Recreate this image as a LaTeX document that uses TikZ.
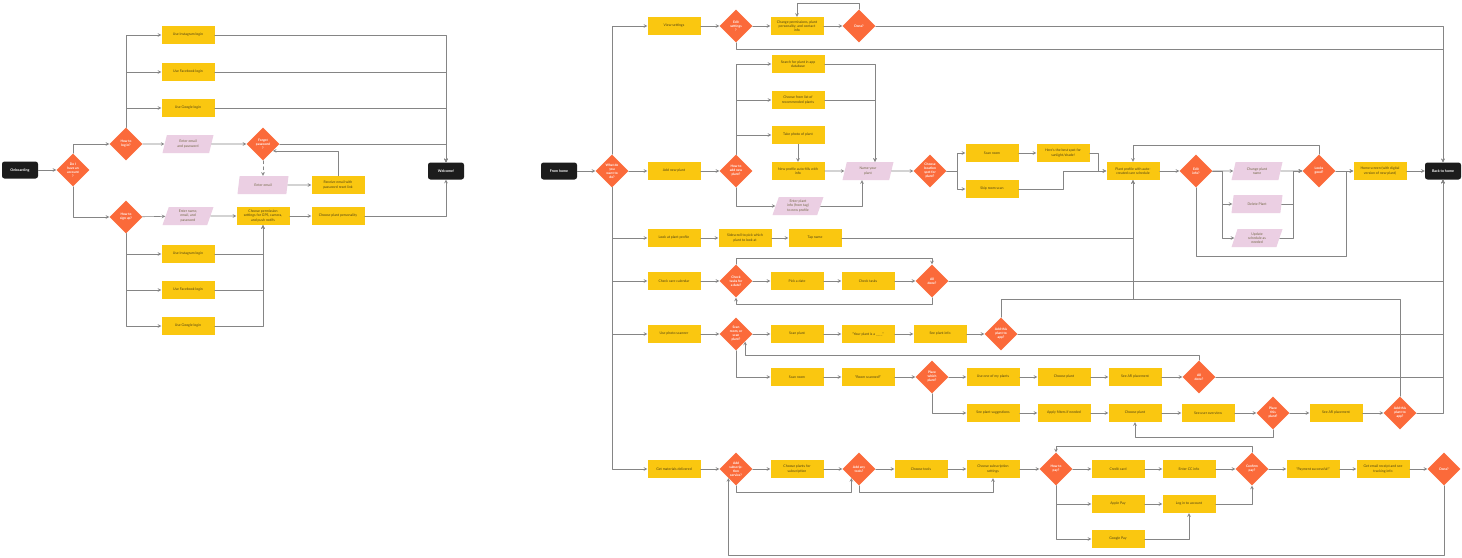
\documentclass[tikz,border=0pt]{standalone}
\usepackage{fontspec}
\setmainfont{Lato}
\usetikzlibrary{shapes.geometric}
\definecolor{yel}{HTML}{FAC710}
\definecolor{org}{HTML}{FB6A3A}
\definecolor{pnk}{HTML}{EBCFE3}
\definecolor{blk}{HTML}{1C1C1C}
\definecolor{lin}{HTML}{858585}
\definecolor{txt}{HTML}{4F4215}
\begin{document}
\begin{tikzpicture}[x=1pt,y=-1pt,>=stealth, line join=round, line cap=round,
	box/.style={rectangle, fill=yel, minimum width=53pt, minimum height=18pt, inner sep=1pt, align=center, text=txt, font=\fontsize{3.5}{4.2}\selectfont},
	dec/.style={diamond, aspect=1, fill=org, minimum size=33pt, inner sep=0pt, align=center, text=white, font=\fontsize{3.3}{4}\selectfont\bfseries},
	inp/.style={trapezium, trapezium left angle=65, trapezium right angle=115, trapezium stretches body, fill=pnk, minimum width=51pt, minimum height=18pt, inner sep=1pt, align=center, text=txt!80, font=\fontsize{3.5}{4.2}\selectfont},
	term/.style={rectangle, rounded corners=2.5pt, fill=blk, minimum width=36pt, minimum height=17pt, text=white, font=\fontsize{3.6}{4.3}\selectfont\bfseries},
	ln/.style={->, color=lin, line width=.6pt}]
	\fill[white] (0,0) rectangle (1462,557);
	\useasboundingbox (0,0) rectangle (1462,557);
	% Onboarding
	\node[term] (onb) at (20,170) {Onboarding};
	\node[dec] (acct) at (73,170) {Do I\\have an\\account\\?};
	\node[dec] (login) at (126,144) {How to\\log in?};
	\node[dec] (signup) at (126,217) {How to\\sign up?};
	\node[box] (ig1) at (188,35) {Use Instagram login};
	\node[box] (fb1) at (188,72) {Use Facebook login};
	\node[box] (gg1) at (188,108) {Use Google login};
	\node[inp] (pw) at (188,144) {Enter email\\and password};
	\node[dec] (forgot) at (263,144) {Forgot\\password\\?};
	\node[inp] (mail) at (263,185) {Enter email};
	\node[box] (reset) at (338,185) {Receive email with\\password reset link};
	\node[term] (welc) at (446,171) {Welcome!};
	\node[inp] (name) at (188,216) {Enter name,\\email, and\\password};
	\node[box] (perm) at (263,216) {Choose permission\\settings for GPS, camera,\\and push notifs};
	\node[box] (pers) at (338,216) {Choose plant personality};
	\node[box] (ig2) at (188,254) {Use Instagram login};
	\node[box] (fb2) at (188,290) {Use Facebook login};
	\node[box] (gg2) at (188,326) {Use Google login};
	\draw[ln] (onb) -- (acct);
	\draw[ln] (acct.north) |- (login);
	\draw[ln] (acct.south) |- (signup);
	\draw[ln] (login.north) |- (ig1);
	\draw[ln] (login.north) |- (fb1);
	\draw[ln] (login.north) |- (gg1);
	\draw[ln] (login) -- (pw);
	\draw[ln] (pw) -- (forgot);
	\draw[ln] (ig1) -| (welc);
	\draw[ln] (fb1) -| (welc);
	\draw[ln] (gg1) -| (welc);
	\draw[ln] (forgot) -| (welc);
	\draw[ln, dashed] (forgot) -- (mail);
	\draw[ln] (mail) -- (reset);
	\draw[ln] (reset.north) |- (forgot.-35);
	\draw[ln] (signup) -- (name);
	\draw[ln] (name) -- (perm);
	\draw[ln] (perm) -- (pers);
	\draw[ln] (pers) -| (welc);
	\draw[ln] (signup.south) |- (ig2);
	\draw[ln] (signup.south) |- (fb2);
	\draw[ln] (signup.south) |- (gg2);
	\draw[ln] (ig2) -| (perm.south);
	\draw[ln] (fb2) -| (perm.south);
	\draw[ln] (gg2) -| (perm.south);
	% From home
	\node[term] (home) at (559,171) {From home};
	\node[dec] (want) at (612,171) {What do\\you\\want to\\do?};
	\node[term] (back) at (1443,171) {Back to home};
	\draw[ln] (home) -- (want);
	% settings
	\node[box] (view) at (674,26) {View settings};
	\node[dec] (edit) at (736,26) {Edit\\settings\\?};
	\node[box] (change) at (797,26) {Change permissions, plant\\personality, and contact\\info};
	\node[dec] (done1) at (859,26) {Done?};
	\draw[ln] (want.north) |- (view);
	\draw[ln] (view) -- (edit);
	\draw[ln] (edit) -- (change);
	\draw[ln] (change) -- (done1);
	\draw[ln] (done1.north) -- ++(0,-6.5) -| (change.north);
	\draw[ln] (done1) -| (back);
	\draw[ln] (edit.south) -- ++(0,6.5) -| (back);
	% new plant
	\node[box] (add) at (674,171) {Add new plant};
	\node[dec] (how) at (736,171) {How to\\add new\\plant?};
	\node[box] (search) at (798,64) {Search for plant in app\\database};
	\node[box] (list) at (798,100) {Choose from list of\\recommended plants};
	\node[box] (photo) at (798,135) {Take photo of plant};
	\node[box] (auto) at (798,171) {New profile auto-fills with\\info};
	\node[inp] (tag) at (798,206) {Enter plant\\info (from tag)\\to new profile};
	\node[inp] (naming) at (868,171) {Name your\\plant};
	\node[dec] (spot) at (930,171) {Choose\\location\\spot for\\plant?};
	\node[box] (scan) at (992,153) {Scan room};
	\node[box] (skip) at (992,189) {Skip room scan};
	\node[box] (best) at (1063,153) {Here's the best spot for\\sunlight/shade!};
	\node[box] (profile) at (1133,171) {Plant profile with auto-\\created care schedule};
	\node[dec] (editinfo) at (1196,171) {Edit\\info?};
	\node[inp] (rename) at (1257,171) {Change plant\\name};
	\node[inp] (del) at (1257,204) {Delete Plant};
	\node[inp] (upd) at (1257,238) {Update\\schedule as\\needed};
	\node[dec] (good) at (1319,171) {Looks\\good?};
	\node[box] (screen) at (1380,171) {Home screen (with digital\\version of new plant)};
	\coordinate (mrg) at (1293,171);
	\coordinate (cj) at (1346,171);
	\draw[ln] (want) -- (add);
	\draw[ln] (add) -- (how);
	\draw[ln] (how.north) |- (search);
	\draw[ln] (how.north) |- (list);
	\draw[ln] (how.north) |- (photo);
	\draw[ln] (how.south) |- (tag);
	\draw[ln] (photo) -- (auto);
	\draw[ln] (auto) -- (naming);
	\draw[ln] (search) -| ([xshift=7pt]naming.north);
	\draw[ln] (list) -| ([xshift=7pt]naming.north);
	\draw[ln] (tag) -| ([xshift=-6pt]naming.south);
	\draw[ln] (naming) -- (spot);
	\draw[ln] (spot.east) -- ++(10.5,0) |- (scan);
	\draw[ln] (spot.east) -- ++(10.5,0) |- (skip);
	\draw[ln] (scan) -- (best);
	\draw[ln] (best.east) -- ++(8.5,0) |- (profile);
	\draw[ln] (skip.east) -- ++(44.5,0) |- (profile);
	\draw[ln] (profile) -- (editinfo);
	\draw[ln] (editinfo) -- (rename);
	\draw[ln] (editinfo.east) -- ++(9.5,0) |- (del);
	\draw[ln] (editinfo.east) -- ++(9.5,0) |- (upd);
	\draw[ln] (rename) -- (good);
	\draw[ln] (del) -| (mrg) -- (good);
	\draw[ln] (upd) -| (mrg) -- (good);
	\draw[ln] (good.north) -- ++(0,-9.5) -| (profile.north);
	\draw[ln] (good) -- (screen);
	\draw[ln] (editinfo.south) -- ++(0,68.5) -| (cj) -- (screen);
	\draw[ln] (screen) -- (back);
	% plant profile
	\node[box] (look) at (674,238) {Look at plant profile};
	\node[box] (side) at (745,238) {Sidescroll to pick which\\plant to look at};
	\node[box] (tap) at (815,238) {Tap name};
	\draw[ln] (want.south) |- (look);
	\draw[ln] (look) -- (side);
	\draw[ln] (side) -- (tap);
	\draw[ln] (tap) -| (profile.south);
	% care calendar
	\node[box] (cal) at (674,281) {Check care calendar};
	\node[dec] (tasks) at (736,281) {Check\\tasks for\\a date?};
	\node[box] (date) at (797,281) {Pick a date};
	\node[box] (check) at (868,281) {Check tasks};
	\node[dec] (alldone) at (932,281) {All\\done?};
	\draw[ln] (want.south) |- (cal);
	\draw[ln] (cal) -- (tasks);
	\draw[ln] (tasks) -- (date);
	\draw[ln] (date) -- (check);
	\draw[ln] (check) -- (alldone);
	\draw[ln] (tasks.north) -- ++(0,-6.5) -| (alldone.north);
	\draw[ln] (alldone.south) -- ++(0,6.5) -| (tasks.south);
	\draw[ln] (alldone) -| (back);
	% photo scanner
	\node[box] (cam) at (674,334) {Use photo scanner};
	\node[dec] (scanq) at (736,334) {Scan\\room, or\\scan\\plant?};
	\node[box] (splant) at (797,334) {Scan plant};
	\node[box] (kind) at (868,334) {``Your plant is a \_\_\_\_''};
	\node[box] (info) at (940,334) {See plant info};
	\node[dec] (keep1) at (1001,334) {Add this\\plant to\\app?};
	\node[box] (sroom) at (797,377) {Scan room};
	\node[box] (scanned) at (868,377) {``Room scanned!''};
	\node[dec] (which) at (932,377) {Place\\which\\plant?};
	\node[box] (mine) at (993,377) {Use one of my plants};
	\node[box] (pick1) at (1064,377) {Choose plant};
	\node[box] (ar1) at (1135,377) {See AR placement};
	\node[dec] (alldone2) at (1199,377) {All\\done?};
	\node[box] (sugg) at (993,413) {See plant suggestions};
	\node[box] (filt) at (1064,413) {Apply filters if needed};
	\node[box] (pick2) at (1135,413) {Choose plant};
	\node[box] (over) at (1208,413) {See user overview};
	\node[dec] (place) at (1273,413) {Place\\this\\plant?};
	\node[box] (ar2) at (1336,413) {See AR placement};
	\node[dec] (keep2) at (1400,413) {Add this\\plant to\\app?};
	\draw[ln] (want.south) |- (cam);
	\draw[ln] (cam) -- (scanq);
	\draw[ln] (scanq) -- (splant);
	\draw[ln] (splant) -- (kind);
	\draw[ln] (kind) -- (info);
	\draw[ln] (info) -- (keep1);
	\draw[ln] (keep1) -| (back);
	\draw[ln] (keep1.north) -- ++(0,-18.5) -| (profile.south);
	\draw[ln] (scanq.south) |- (sroom);
	\draw[ln] (sroom) -- (scanned);
	\draw[ln] (scanned) -- (which);
	\draw[ln] (which) -- (mine);
	\draw[ln] (mine) -- (pick1);
	\draw[ln] (pick1) -- (ar1);
	\draw[ln] (ar1) -- (alldone2);
	\draw[ln] (alldone2) -| (back);
	\draw[ln] (alldone2.north) -- ++(0,-5.5) -| (scanq.-40);
	\draw[ln] (which.south) |- (sugg);
	\draw[ln] (sugg) -- (filt);
	\draw[ln] (filt) -- (pick2);
	\draw[ln] (pick2) -- (over);
	\draw[ln] (over) -- (place);
	\draw[ln] (place) -- (ar2);
	\draw[ln] (ar2) -- (keep2);
	\draw[ln] (place.south) -- ++(0,7.5) -| (pick2.south);
	\draw[ln] (keep2) -| (back);
	\draw[ln] (keep2.north) -- ++(0,-97.5) -| (profile.south);
	% materials
	\node[box] (mat) at (674,469) {Get materials delivered};
	\node[dec] (sub) at (736,469) {Add\\subscrip-\\tion\\service?};
	\node[box] (subplants) at (797,469) {Choose plants for\\subscription};
	\node[dec] (tools) at (859,469) {Add any\\tools?};
	\node[box] (ctools) at (921,469) {Choose tools};
	\node[box] (settings) at (993,469) {Choose subscription\\settings};
	\node[dec] (pay) at (1056,469) {How to\\pay?};
	\node[box] (cc) at (1118,469) {Credit card};
	\node[box] (ccinfo) at (1189,469) {Enter CC info};
	\node[dec] (confirm) at (1252,469) {Confirm\\pay?};
	\node[box] (paid) at (1313,469) {``Payment successful!''};
	\node[box] (receipt) at (1383,469) {Get email receipt and see\\tracking info};
	\node[dec] (done2) at (1444,469) {Done?};
	\node[box] (apple) at (1118,504) {Apple Pay};
	\node[box] (acc) at (1189,504) {Log in to account};
	\node[box] (gpay) at (1118,539) {Google Pay};
	\draw[ln] (want.south) |- (mat);
	\draw[ln] (mat) -- (sub);
	\draw[ln] (sub) -- (subplants);
	\draw[ln] (subplants) -- (tools);
	\draw[ln] (tools) -- (ctools);
	\draw[ln] (ctools) -- (settings);
	\draw[ln] (settings) -- (pay);
	\draw[ln] (pay) -- (cc);
	\draw[ln] (cc) -- (ccinfo);
	\draw[ln] (ccinfo) -- (confirm);
	\draw[ln] (confirm) -- (paid);
	\draw[ln] (paid) -- (receipt);
	\draw[ln] (receipt) -- (done2);
	\draw[ln] (sub.south) -- ++(0,6.5) -| (tools.-130);
	\draw[ln] (tools.south) -- ++(0,6.5) -| (settings.south);
	\draw[ln] (pay.south) |- (apple);
	\draw[ln] (pay.south) |- (gpay);
	\draw[ln] (apple) -- (acc);
	\draw[ln] (acc) -| (confirm.south);
	\draw[ln] (gpay) -| (acc.south);
	\draw[ln] (confirm.north) -- ++(0,-6.5) -| (pay.north);
	\draw[ln] (done2.south) -- ++(0,69.5) -| (sub.-130);
\end{tikzpicture}
\end{document}
